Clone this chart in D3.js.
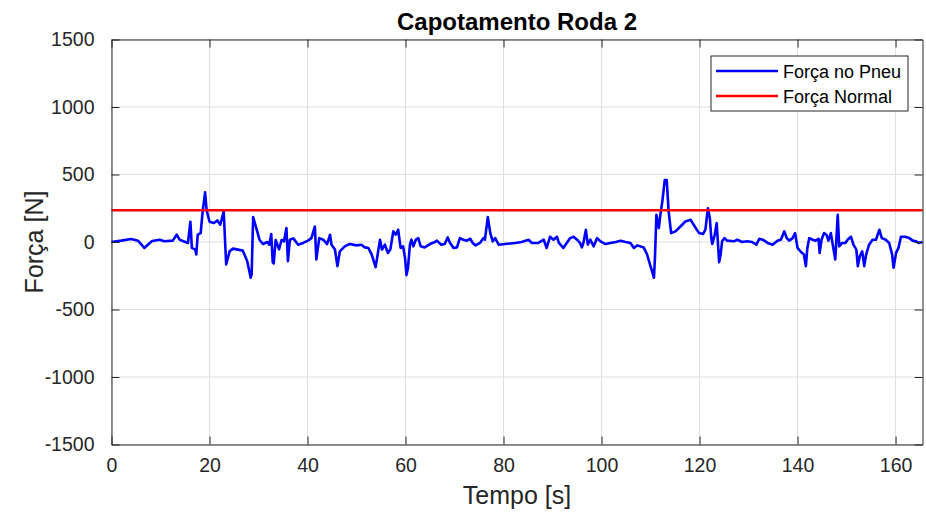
<!DOCTYPE html>
<html>
<head>
<meta charset="utf-8">
<script src="https://cdn.jsdelivr.net/npm/d3@7"></script>
<style>
  html, body { margin: 0; padding: 0; background: #fff; }
  svg { display: block; font-family: "Liberation Sans", Arial, Helvetica, sans-serif; }
</style>
</head>
<body>
<svg id="chart" width="926" height="514"></svg>
<script>
// Tyre force for wheel 2 over time [s, N]
const tempo = [
  0, 2.0, 4.0, 5.4, 6.7, 7.8, 8.3, 9.8, 10.8, 12.5, 13.3, 13.9, 15.6, 16.1, 16.4, 17.1, 17.3, 17.6, 18.2, 18.6,
  19.1, 19.4, 20.0, 20.9, 21.6, 22.2, 22.9, 23.4, 24.1, 24.8, 26.8, 27.7, 28.4, 28.6, 28.9, 29.5, 30.2, 30.9, 31.8, 32.2,
  32.6, 32.9, 33.1, 33.5, 34.2, 34.7, 35.2, 35.7, 36.0, 36.4, 37.1, 38.1, 39.1, 40.1, 40.8, 41.5, 41.8, 42.4, 43.2, 44.0,
  44.6, 44.9, 45.6, 46.1, 46.6, 47.6, 48.6, 50.0, 51.0, 51.7, 52.4, 53.1, 53.9, 54.2, 54.8, 55.2, 55.8, 56.4, 56.9, 57.5,
  58.0, 58.5, 59.0, 59.5, 59.9, 60.2, 60.5, 60.9, 61.2, 61.6, 62.1, 62.6, 63.1, 63.9, 65.0, 66.0, 66.4, 67.3, 68.0, 68.6,
  69.1, 69.8, 70.5, 71.1, 71.8, 72.5, 73.2, 73.7, 74.3, 75.2, 75.9, 76.2, 76.8, 77.3, 77.8, 78.3, 79.0, 80.3, 82.4, 83.7,
  85.1, 85.8, 87.1, 88.2, 88.8, 89.5, 90.2, 90.9, 91.3, 92.2, 92.9, 93.6, 94.3, 95.0, 95.6, 96.0, 96.3, 96.8, 97.2, 97.7,
  98.4, 99.1, 99.8, 100.8, 101.8, 102.9, 103.9, 104.9, 105.9, 106.6, 107.3, 108.6, 109.3, 109.9, 110.3, 110.7, 110.9, 111.2, 111.7, 112.0,
  112.4, 112.9, 113.3, 113.7, 114.2, 115.1, 116.1, 117.1, 118.2, 118.8, 119.9, 120.7, 121.2, 121.7, 122.1, 122.4, 122.6, 123.1, 123.5, 124.0,
  124.3, 124.6, 125.1, 125.6, 127.0, 127.7, 128.7, 129.7, 130.7, 131.6, 132.2, 132.9, 133.9, 134.9, 135.9, 136.6, 137.3, 137.8, 138.3, 139.0,
  139.5, 140.0, 140.7, 141.3, 141.7, 142.0, 142.4, 143.1, 143.7, 144.3, 144.5, 144.9, 145.4, 145.9, 146.3, 146.8, 147.3, 147.7, 148.2, 148.5,
  149.1, 149.8, 150.2, 150.9, 151.4, 152.0, 152.3, 152.7, 153.2, 153.6, 154.0, 154.6, 155.3, 156.0, 156.7, 157.2, 158.0, 158.7, 159.3, 159.6,
  160.1, 160.6, 161.1, 162.0, 162.8, 163.5, 164.2, 164.7, 165.5
];
const forcaPneu = [
  0, 10, 22, 10, -44, -7, 7, 17, 5, 10, 54, 17, -7, 150, -44, -56, -93, 54, 66, 226,
  368, 238, 150, 140, 160, 128, 226, -167, -69, -49, -64, -142, -265, -240, 184, 108, 17, -15, 0, -20,
  59, -150, -159, 15, -54, 15, 5, 103, -142, 17, 27, -20, -7, 10, 29, 115, -130, 29, 17, -15,
  54, -20, -56, -179, -69, -32, -15, -25, -20, -40, -44, -93, -186, -118, 17, -56, -20, -81, -56, 79,
  54, 91, -44, -32, -118, -245, -191, -20, 17, -32, 17, 29, -32, -40, -15, 0, 10, -20, -15, 34,
  -7, -44, -40, 29, 17, 10, 24, -7, -25, -7, 29, 17, 184, 66, 5, 29, -20, -15, -7, 0,
  17, -7, -7, 17, -44, 39, 17, 39, -7, -44, -7, 29, 39, 17, -7, -40, -7, 91, -20, 17,
  -32, 29, 5, -15, -7, 0, 10, 0, -7, -44, -25, -40, -93, -167, -216, -265, -118, 201, 103, 201,
  299, 458, 458, 226, 66, 79, 115, 152, 164, 128, 66, 59, 91, 250, 177, 29, -15, 54, 140, -150,
  -93, 5, 29, 10, 5, 17, 0, 5, 0, -20, 24, 17, -7, -20, 10, 17, 79, 29, 10, 29,
  66, -44, -74, -93, -179, -44, 29, 17, 10, 24, -81, 17, 66, 54, 10, 66, -44, -130, 201, -32,
  -7, -7, 17, 39, -20, -56, -179, -105, -69, -179, -93, -20, 17, 17, 91, 29, 17, -7, -93, -191,
  -81, -44, 39, 39, 29, 10, 5, -7, 0
];
const forcaNormal = 235;

const xTicks = [0, 20, 40, 60, 80, 100, 120, 140, 160];
const yTicks = [-1500, -1000, -500, 0, 500, 1000, 1500];
const seriesNames = ["Força no Pneu", "Força Normal"];
const seriesColors = ["#0000ff", "#ff0000"];

const svg = d3.select("#chart");
const m = { left: 111.5, right: 926 - 922.5, top: 39.5, bottom: 514 - 444.5 };
const W = 926, H = 514;
const iw = W - m.left - m.right, ih = H - m.top - m.bottom;

const x = d3.scaleLinear().domain([0, 165.5]).range([m.left, m.left + iw]);
const y = d3.scaleLinear().domain([-1500, 1500]).range([m.top + ih, m.top]);

const axisColor = "#262626";
const tickLen = 8;
const plainNum = d => String(d);

// grid
const grid = svg.append("g");
grid.selectAll(".gx").data(xTicks).join("line")
  .attr("x1", d => x(d)).attr("x2", d => x(d))
  .attr("y1", m.top).attr("y2", m.top + ih)
  .attr("stroke", "#dfdfdf").attr("stroke-width", 1);
grid.selectAll(".gy").data(yTicks).join("line")
  .attr("y1", d => y(d)).attr("y2", d => y(d))
  .attr("x1", m.left).attr("x2", m.left + iw)
  .attr("stroke", "#dfdfdf").attr("stroke-width", 1);

// data lines
const data = tempo.map((t, i) => [t, forcaPneu[i]]);
const line = d3.line().x(d => x(d[0])).y(d => y(d[1]));
svg.append("path").datum(data)
  .attr("d", line)
  .attr("fill", "none")
  .attr("stroke", seriesColors[0])
  .attr("stroke-width", 2.6)
  .attr("stroke-linejoin", "round");

svg.append("line")
  .attr("x1", x(0)).attr("x2", x(165.5))
  .attr("y1", y(forcaNormal)).attr("y2", y(forcaNormal))
  .attr("stroke", seriesColors[1]).attr("stroke-width", 2.6);

// axes (inward ticks, box)
const axBottom = d3.axisBottom(x).tickValues(xTicks).tickFormat(plainNum).tickSizeInner(-tickLen).tickSizeOuter(0).tickPadding(14);
const axLeft = d3.axisLeft(y).tickValues(yTicks).tickFormat(plainNum).tickSizeInner(-tickLen).tickSizeOuter(0).tickPadding(17);
const axTop = d3.axisTop(x).tickValues(xTicks).tickSizeInner(-tickLen).tickSizeOuter(0).tickFormat("");
const axRight = d3.axisRight(y).tickValues(yTicks).tickSizeInner(-tickLen).tickSizeOuter(0).tickFormat("");

function styleAxis(g) {
  g.select(".domain").attr("stroke", axisColor).attr("stroke-width", 1);
  g.selectAll(".tick line").attr("stroke", axisColor).attr("stroke-width", 1);
  g.selectAll(".tick text").attr("fill", axisColor).style("font-size", "19.5px")
    .style("font-family", '"Liberation Sans", Arial, sans-serif');
}
svg.append("g").attr("transform", `translate(0,${m.top + ih})`).call(axBottom).call(styleAxis);
svg.append("g").attr("transform", `translate(${m.left},0)`).call(axLeft).call(styleAxis);
svg.append("g").attr("transform", `translate(0,${m.top})`).call(axTop).call(styleAxis);
svg.append("g").attr("transform", `translate(${m.left + iw},0)`).call(axRight).call(styleAxis);

// labels
svg.append("text").attr("x", m.left + iw / 2).attr("y", 30)
  .attr("text-anchor", "middle").attr("font-weight", "bold").attr("font-size", 24)
  .attr("fill", "#000").text("Capotamento Roda 2");
svg.append("text").attr("x", m.left + iw / 2).attr("y", 504)
  .attr("text-anchor", "middle").attr("font-size", 25)
  .attr("fill", axisColor).text("Tempo [s]");
svg.append("text").attr("transform", `translate(43,${m.top + ih / 2}) rotate(-90)`)
  .attr("text-anchor", "middle").attr("font-size", 25)
  .attr("fill", axisColor).text("Força [N]");

// legend
const lg = svg.append("g").attr("transform", "translate(711,56)");
lg.append("rect").attr("width", 197).attr("height", 55)
  .attr("fill", "#fff").attr("stroke", axisColor).attr("stroke-width", 1);
seriesNames.forEach((name, i) => {
  const cy = 15 + i * 25;
  lg.append("line").attr("x1", 5).attr("x2", 67).attr("y1", cy).attr("y2", cy)
    .attr("stroke", seriesColors[i]).attr("stroke-width", 2.6);
  lg.append("text").attr("x", 72).attr("y", cy + 6.5).attr("font-size", 18)
    .attr("fill", "#000").text(name);
});
</script>
</body>
</html>
